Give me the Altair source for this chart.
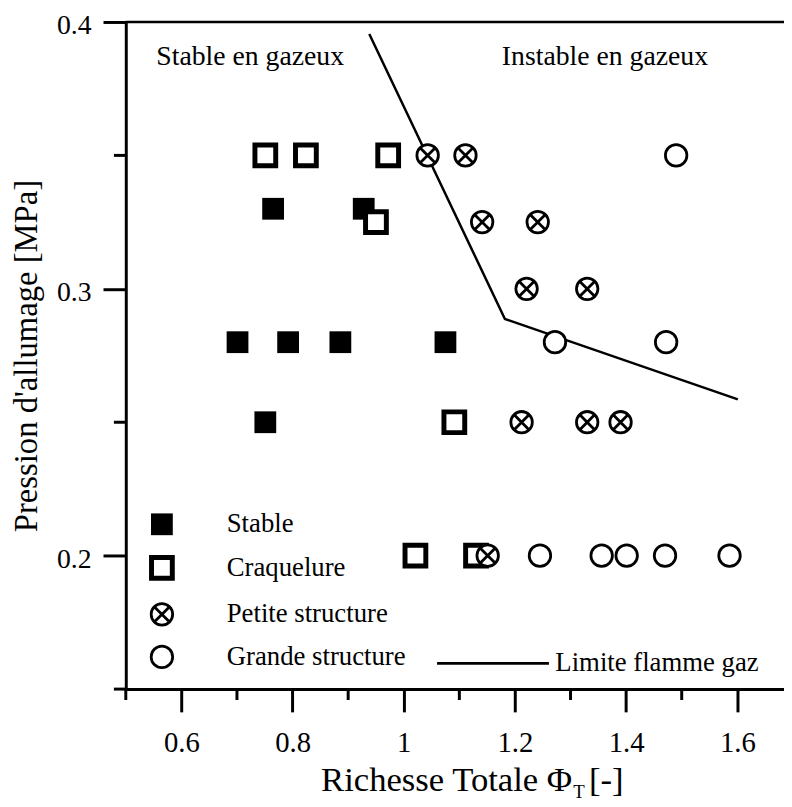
import altair as alt
import pandas as pd

# ---- data ----
categories = ["Stable", "Craquelure", "Petite structure", "Grande structure"]

stable_x = [0.765, 0.928, 0.701, 0.792, 0.886, 1.075, 0.751]
stable_y = [0.33, 0.33, 0.28, 0.28, 0.28, 0.28, 0.25]

craq_x = [0.751, 0.824, 0.972, 0.950, 1.091, 1.021, 1.130]
craq_y = [0.35, 0.35, 0.35, 0.325, 0.25, 0.20, 0.20]

petite_x = [1.043, 1.111, 1.141, 1.241, 1.221, 1.330, 1.212, 1.330, 1.390, 1.151]
petite_y = [0.35, 0.35, 0.325, 0.325, 0.30, 0.30, 0.25, 0.25, 0.25, 0.20]

grande_x = [1.490, 1.272, 1.472, 1.245, 1.356, 1.401, 1.470, 1.586]
grande_y = [0.35, 0.28, 0.28, 0.20, 0.20, 0.20, 0.20, 0.20]

limit_x = [0.938, 1.182, 1.601]
limit_y = [0.3955, 0.2887, 0.2586]
limit_name = "Limite flamme gaz"

annot_text = ["Stable en gazeux", "Instable en gazeux"]
annot_x = [0.555, 1.1765]
annot_y = [0.384, 0.384]

x_major = [0.6, 0.8, 1.0, 1.2, 1.4, 1.6]
x_minor = [0.5, 0.7, 0.9, 1.1, 1.3, 1.5]
y_major = [0.2, 0.3, 0.4]
y_minor = [0.15, 0.25, 0.35]

# ---- tables ----
rows = []
for cat, xs, ys in zip(categories, [stable_x, craq_x, petite_x, grande_x],
                       [stable_y, craq_y, petite_y, grande_y]):
    for xv, yv in zip(xs, ys):
        rows.append({"phi": xv, "p": yv, "type": cat})
pts = pd.DataFrame(rows)
lim = pd.DataFrame({"phi": limit_x, "p": limit_y, "serie": limit_name})
ann = pd.DataFrame({"phi": annot_x, "p": annot_y, "txt": annot_text})
xmin_df = pd.DataFrame({"phi": x_minor})
ymin_df = pd.DataFrame({"p": y_minor})

FONT = "Liberation Serif"
W, H = 665, 674

xscale = alt.Scale(domain=[0.5, 1.684], nice=False, zero=False)
yscale = alt.Scale(domain=[0.15, 0.4], nice=False, zero=False)

xaxis = alt.Axis(
    values=x_major, title=None, grid=False, format="~g",
    tickSize=23,
    labelFontSize=29, labelFont=FONT, labelColor="black", labelPadding=17,
    domainWidth=3, tickWidth=3, domainColor="black", tickColor="black",
    labelFlush=False, labelOverlap=False,
)
yaxis = alt.Axis(
    values=y_major, title="Pression d'allumage [MPa]", grid=False, format="~g",
    tickSize=23,
    labelFontSize=28, labelFont=FONT, labelColor="black", labelPadding=12, labelOffset=4,
    domainWidth=3, tickWidth=3, domainColor="black", tickColor="black",
    labelFlush=False, labelOverlap=False,
    titleFont=FONT, titleFontSize=33, titleFontWeight="normal", titleColor="black",
    titleAngle=270, titleAlign="center", titleBaseline="alphabetic",
    titleX=-90, titleY=337,
)

petite_path = ("M1,0A1,1,0,1,1,-1,0A1,1,0,1,1,1,0Z"
               "M-0.62,-0.62L0.62,0.62M-0.62,0.62L0.62,-0.62")

line = alt.Chart(lim).mark_line(strokeWidth=2.5).encode(
    x=alt.X("phi:Q", scale=xscale, axis=xaxis),
    y=alt.Y("p:Q", scale=yscale, axis=yaxis),
    color=alt.Color("serie:N", scale=alt.Scale(range=["black"]),
                    legend=alt.Legend(title=None, orient="none", legendX=313, legendY=590,
                                      symbolType="stroke", symbolSize=12770,
                                      symbolStrokeWidth=2.8, labelOffset=5, labelLimit=0,
                                      labelFontSize=27, labelFont=FONT, labelColor="black",
                                      padding=0)),
)

leg = alt.Legend(title=None, orient="none", legendX=23, legendY=494, padding=0,
                 labelFontSize=27, labelFont=FONT, labelColor="black", labelLimit=0,
                 labelOffset=52, rowPadding=10, symbolOpacity=1)

points = alt.Chart(pts).mark_point(opacity=1).encode(
    x=alt.X("phi:Q", scale=xscale),
    y=alt.Y("p:Q", scale=yscale),
    shape=alt.Shape("type:N", scale=alt.Scale(domain=categories,
                    range=["square", "square", petite_path, "circle"]), legend=leg),
    fill=alt.Fill("type:N", scale=alt.Scale(domain=categories,
                  range=["black", "white", "white", "white"]), legend=leg),
    stroke=alt.Stroke("type:N", scale=alt.Scale(domain=categories,
                      range=["black", "black", "black", "black"]), legend=leg),
    size=alt.Size("type:N", scale=alt.Scale(type="ordinal", domain=categories,
                  range=[484, 441, 471, 471]), legend=leg),
    strokeWidth=alt.StrokeWidth("type:N", scale=alt.Scale(type="ordinal", domain=categories,
                                range=[0, 5, 2.8, 2.8]), legend=leg),
)

annots = alt.Chart(ann).mark_text(font=FONT, fontSize=28, align="left",
                                  baseline="alphabetic", color="black").encode(
    x=alt.X("phi:Q", scale=xscale),
    y=alt.Y("p:Q", scale=yscale),
    text="txt:N",
)

# minor ticks
xminor = alt.Chart(xmin_df).mark_rule(strokeWidth=3, color="black").encode(
    x=alt.X("phi:Q", scale=xscale), y=alt.value(H), y2=alt.value(H + 11)
)
yminor = alt.Chart(ymin_df).mark_rule(strokeWidth=3, color="black").encode(
    y=alt.Y("p:Q", scale=yscale), x=alt.value(-12), x2=alt.value(0)
)

# top frame line
frame = alt.Chart(pd.DataFrame({"k": [0]})).mark_rule(strokeWidth=2.5, color="black").encode(
    x=alt.value(0), x2=alt.value(W), y=alt.value(0)
)

# x-axis title with subscript
t_main = alt.Chart(pd.DataFrame({"t": ["Richesse Totale Φ"]})).mark_text(
    font=FONT, fontSize=35, align="right", baseline="alphabetic", color="black"
).encode(text="t:N", x=alt.value(451), y=alt.value(777))
t_sub = alt.Chart(pd.DataFrame({"t": ["T"]})).mark_text(
    font=FONT, fontSize=19, align="left", baseline="alphabetic", color="black"
).encode(text="t:N", x=alt.value(452), y=alt.value(784))
t_end = alt.Chart(pd.DataFrame({"t": ["[-]"]})).mark_text(
    font=FONT, fontSize=35, align="left", baseline="alphabetic", color="black"
).encode(text="t:N", x=alt.value(468), y=alt.value(777))

chart = alt.layer(line, points, annots, xminor, yminor, frame, t_main, t_sub, t_end).properties(
    width=W, height=H,
    autosize=alt.AutoSizeParams(type="none"),
    padding={"left": 119, "top": 10, "right": 0, "bottom": 115},
).configure_view(stroke=None).configure(background="white")

chart.save("out.html", embed_options={"renderer": "svg", "actions": False})
